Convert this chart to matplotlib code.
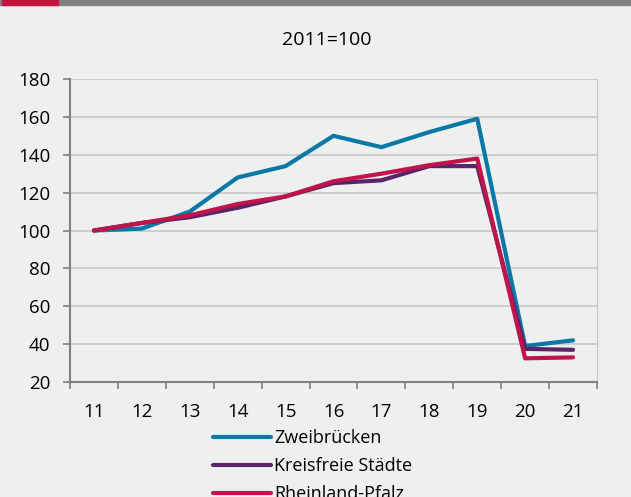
import matplotlib.pyplot as plt
from matplotlib.patches import Rectangle

years = ["11", "12", "13", "14", "15", "16", "17", "18", "19", "20", "21"]
zweibruecken = [100, 101, 110, 128, 134, 150, 144, 152, 159, 39, 42]
kreisfreie = [100, 104, 107, 112, 118, 125, 126.5, 134, 134, 37.5, 37]
rlp = [100, 104, 108, 114, 118, 126, 130, 134.5, 138, 32.5, 33]

bg = "#eef0ef"
plt.rcParams["font.family"] = ["Open Sans", "DejaVu Sans"]

fig = plt.figure(figsize=(6.31, 4.97), dpi=100, facecolor=bg)
# header bar
fig.patches.append(Rectangle((0, 1 - 5 / 497), 1, 5 / 497, transform=fig.transFigure,
                             color="#808080", zorder=0))
fig.patches.append(Rectangle((2 / 631, 1 - 5 / 497), 56 / 631, 5 / 497,
                             transform=fig.transFigure, color="#c0143f", zorder=1))

ax = fig.add_axes([70 / 631, 1 - 382 / 497, 527 / 631, 303 / 497], facecolor=bg)
x = list(range(len(years)))
ax.plot(x, zweibruecken, color="#0b78a5", lw=3, label="Zweibrücken", solid_capstyle="round")
ax.plot(x, kreisfreie, color="#5b2468", lw=3, label="Kreisfreie Städte", solid_capstyle="round")
ax.plot(x, rlp, color="#c0144a", lw=3, label="Rheinland-Pfalz", solid_capstyle="round")

ax.set_xlim(-0.5, 10.5)
ax.set_ylim(20, 180)
ax.set_yticks(range(20, 181, 20))
ax.set_xticks(x)
ax.set_xticklabels(years)
ax.set_xticks([i + 0.5 for i in range(-1, 11)], minor=True)
ax.tick_params(axis="x", which="major", length=0, pad=15, labelsize=13.5)
ax.tick_params(axis="x", which="minor", length=5, color="#808080", width=1.2)
ax.tick_params(axis="y", length=5, color="#808080", width=1.2, labelsize=13.5, pad=9)
ax.grid(axis="y", color="#c8c8c8", lw=1.2)
ax.set_axisbelow(True)
ax.spines["top"].set_visible(False)
ax.spines["left"].set_color("#808080")
ax.spines["left"].set_linewidth(1.5)
ax.spines["bottom"].set_color("#808080")
ax.spines["bottom"].set_linewidth(1.5)
ax.spines["right"].set_color("#c8c8c8")

fig.text(327 / 631, 1 - 40 / 497, "2011=100", ha="center", va="center", fontsize=14)

fig.legend(loc="upper left", bbox_to_anchor=(213 / 631, 1 - 429 / 497), frameon=False,
           fontsize=13, handlelength=3.2, handletextpad=0.2, borderpad=0,
           labelspacing=0.55, borderaxespad=0)

fig.savefig("out.png", dpi=100, facecolor=bg)
